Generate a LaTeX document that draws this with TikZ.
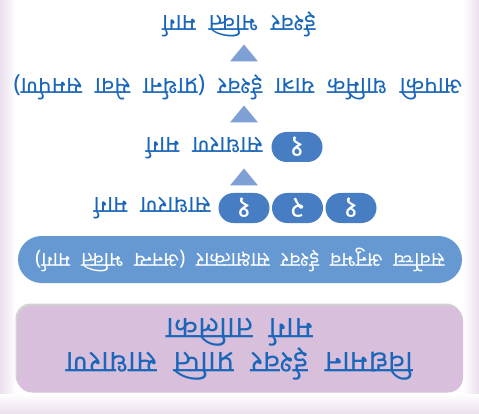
\documentclass[tikz,border=0pt]{standalone}
\usepackage{fontspec}
\newfontfamily\hindi[Script=Devanagari, WordSpace=2]{Noto Sans}
\usetikzlibrary{shadows}
\definecolor{linkblue}{HTML}{1A66B8}
\definecolor{pillblue}{HTML}{6699D2}
\definecolor{numblue}{HTML}{467DC3}
\definecolor{arrowblue}{HTML}{7FA0D4}
\definecolor{lilac}{HTML}{D8C0DC}
\definecolor{edgetint}{HTML}{EADFEE}
\tikzset{
  flip/.style={rotate=180},
  hword/.style={flip, font=\hindi\fontsize{24}{24}\selectfont, text=linkblue, inner sep=0pt},
  titlebox/.style={flip, fill=lilac, rounded corners=15pt, minimum width=446pt,
    minimum height=87pt, align=center, text=linkblue,
    font=\hindi\fontsize{31}{29}\selectfont,
    drop shadow={shadow xshift=-1.5pt, shadow yshift=2pt, opacity=0.35}},
  leadpill/.style={flip, fill=pillblue, text=white, rounded corners=23.5pt,
    minimum width=444pt, minimum height=47pt, font=\hindi\fontsize{20.5}{20.5}\selectfont},
  numpill/.style={flip, fill=numblue, text=white, rounded corners=15pt,
    minimum width=51pt, minimum height=30pt, inner sep=0pt,
    font=\hindi\fontsize{30}{30}\selectfont},
  stepmark/.style={fill=arrowblue}
}

\begin{document}
\begin{tikzpicture}[x=1pt, y=-1pt]
  \useasboundingbox (0,0) rectangle (479,414);

  % ---- page background with soft lilac edges ----
  \fill[white] (0,0) rectangle (479,414);
  \shade[left color=edgetint, right color=white] (0,0) rectangle (16,414);
  \shade[left color=white, right color=edgetint] (463,0) rectangle (479,414);
  \shade[top color=white, bottom color=edgetint] (0,394) rectangle (479,414);

  % ---- title box ----
  \node[titlebox] (title) at (240,349) {विद्यमान ईश्वर प्राप्ति साधारण\\मार्ग तालिका};

  % ---- lead pill ----
  \node[leadpill] (lead) at (240,259.5) {सर्वोच्च अनुभव ईश्वर साक्षात्कार (अनन्य भक्ति मार्ग)};

  % ---- three numbered paths ----
  \node[numpill] (nc) at (351,208) {१};
  \node[numpill] (nb) at (297.5,208) {२};
  \node[numpill] (na) at (244,208) {१};
  \node[hword, anchor=west] (three) at (211,208) {साधारण मार्ग};

  % ---- one path ----
  \node[numpill] (n1) at (297,147) {१};
  \node[hword, anchor=west] (one) at (263,148) {साधारण मार्ग};

  % ---- personal line and goal ----
  \node[hword] (own) at (238,87)
    {आपकी धार्मिक यात्रा ईश्वर (प्रार्थना सेवा समर्पण)};
  \node[hword] (goal) at (239,24) {ईश्वर भक्ति मार्ग};

  % ---- step marks between the rows ----
  \coordinate (s1) at (244,177);
  \coordinate (s2) at (244,114);
  \coordinate (s3) at (244,53);
  \foreach \s in {s1,s2,s3}
    \fill[stepmark] (\s) ++(-14,8.5) -- ++(28,0) -- ++(-14,-17) -- cycle;

\end{tikzpicture}
\end{document}
